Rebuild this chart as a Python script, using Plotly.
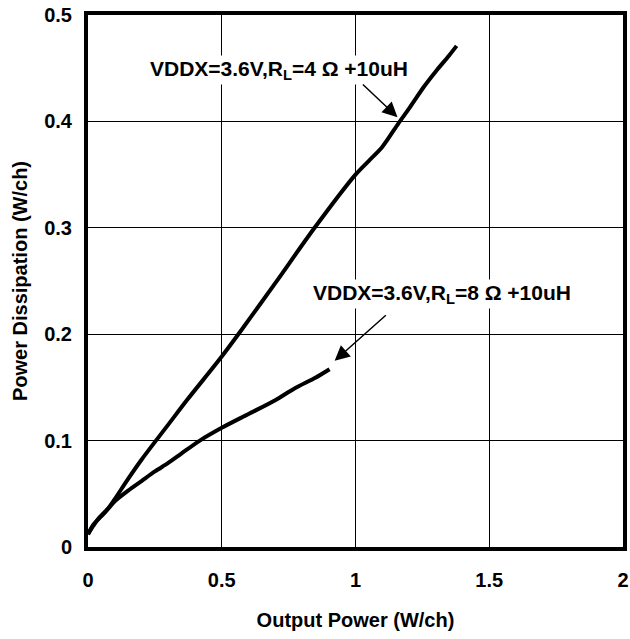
import plotly.graph_objects as go

# Output power (W/ch) vs power dissipation (W/ch)
p_out_4ohm = [0, 0.02, 0.05, 0.075, 0.1, 0.15, 0.2, 0.254, 0.3, 0.373, 0.5, 0.571,
              0.7, 0.847, 1.0, 1.05, 1.1, 1.16, 1.2, 1.257, 1.3, 1.35, 1.378]
p_diss_4ohm = [0.012, 0.021, 0.029, 0.036, 0.045, 0.064, 0.082, 0.1, 0.115, 0.139, 0.179, 0.203,
               0.248, 0.3, 0.35, 0.363, 0.376, 0.398, 0.412, 0.433, 0.447, 0.462, 0.471]

p_out_8ohm = [0, 0.02, 0.04, 0.075, 0.1, 0.15, 0.2, 0.25, 0.3, 0.35, 0.418, 0.5,
              0.6, 0.7, 0.772, 0.85, 0.903]
p_diss_8ohm = [0.012, 0.02, 0.027, 0.036, 0.043, 0.053, 0.062, 0.071, 0.079, 0.088, 0.1, 0.112,
               0.125, 0.138, 0.149, 0.159, 0.167]

x_ticks = [0, 0.5, 1, 1.5, 2]
y_ticks = [0, 0.1, 0.2, 0.3, 0.4, 0.5]

font = dict(family='Liberation Sans, Arial', size=20, color='black', weight='bold')
label_font = dict(family='Liberation Sans, Arial', size=21, color='black', weight='bold')

fig = go.Figure()
fig.add_trace(go.Scatter(x=p_out_4ohm, y=p_diss_4ohm, mode='lines',
                         line=dict(color='black', width=4, shape='spline', smoothing=0.8),
                         name='4 ohm'))
fig.add_trace(go.Scatter(x=p_out_8ohm, y=p_diss_8ohm, mode='lines',
                         line=dict(color='black', width=4, shape='spline', smoothing=0.8),
                         name='8 ohm'))

# labels
fig.add_annotation(x=0.713, y=0.448, xref='x', yref='y', showarrow=False,
                   text='VDDX=3.6V,R<sub>L</sub>=4 Ω +10uH', font=label_font, bgcolor='white')
fig.add_annotation(x=1.325, y=0.238, xref='x', yref='y', showarrow=False,
                   text='VDDX=3.6V,R<sub>L</sub>=8 Ω +10uH', font=label_font, bgcolor='white')
# arrows
fig.add_annotation(x=1.157, y=0.404, ax=1.022, ay=0.436, xref='x', yref='y',
                   axref='x', ayref='y', text='', showarrow=True,
                   arrowhead=2, arrowsize=2, arrowwidth=1.5, arrowcolor='black')
fig.add_annotation(x=0.922, y=0.175, ax=1.119, ay=0.219, xref='x', yref='y',
                   axref='x', ayref='y', text='', showarrow=True,
                   arrowhead=2, arrowsize=2, arrowwidth=1.5, arrowcolor='black')

fig.update_layout(
    width=630, height=639,
    margin=dict(l=88, r=7, t=15, b=92),
    paper_bgcolor='white',
    plot_bgcolor='white',
    showlegend=False,
    font=font,
)
fig.update_xaxes(
    range=[0, 2], tickvals=x_ticks, ticktext=[str(v) for v in x_ticks],
    showgrid=True, gridcolor='black', gridwidth=1, zeroline=False,
    showline=True, linecolor='black', linewidth=4, mirror=True,
    ticks='', ticklabelstandoff=12, tickfont=font, automargin=False,
    ticklabeloverflow='allow',
    title=dict(text='Output Power (W/ch)', font=font, standoff=24),
)
fig.update_yaxes(
    range=[0, 0.5], tickvals=y_ticks, ticktext=['0', '0.1', '0.2', '0.3', '0.4', '0.5'],
    showgrid=True, gridcolor='black', gridwidth=1, zeroline=False,
    showline=True, linecolor='black', linewidth=4, mirror=True,
    ticks='', ticklabelstandoff=8, tickfont=font, automargin=False,
    ticklabeloverflow='allow',
    title=dict(text='Power Dissipation (W/ch)', font=font, standoff=12),
)

# drop the default page margin so the figure sits at the window's corner
fig.write_html("out.html", config={'displayModeBar': False},
               post_script="document.body.style.margin='0';")
